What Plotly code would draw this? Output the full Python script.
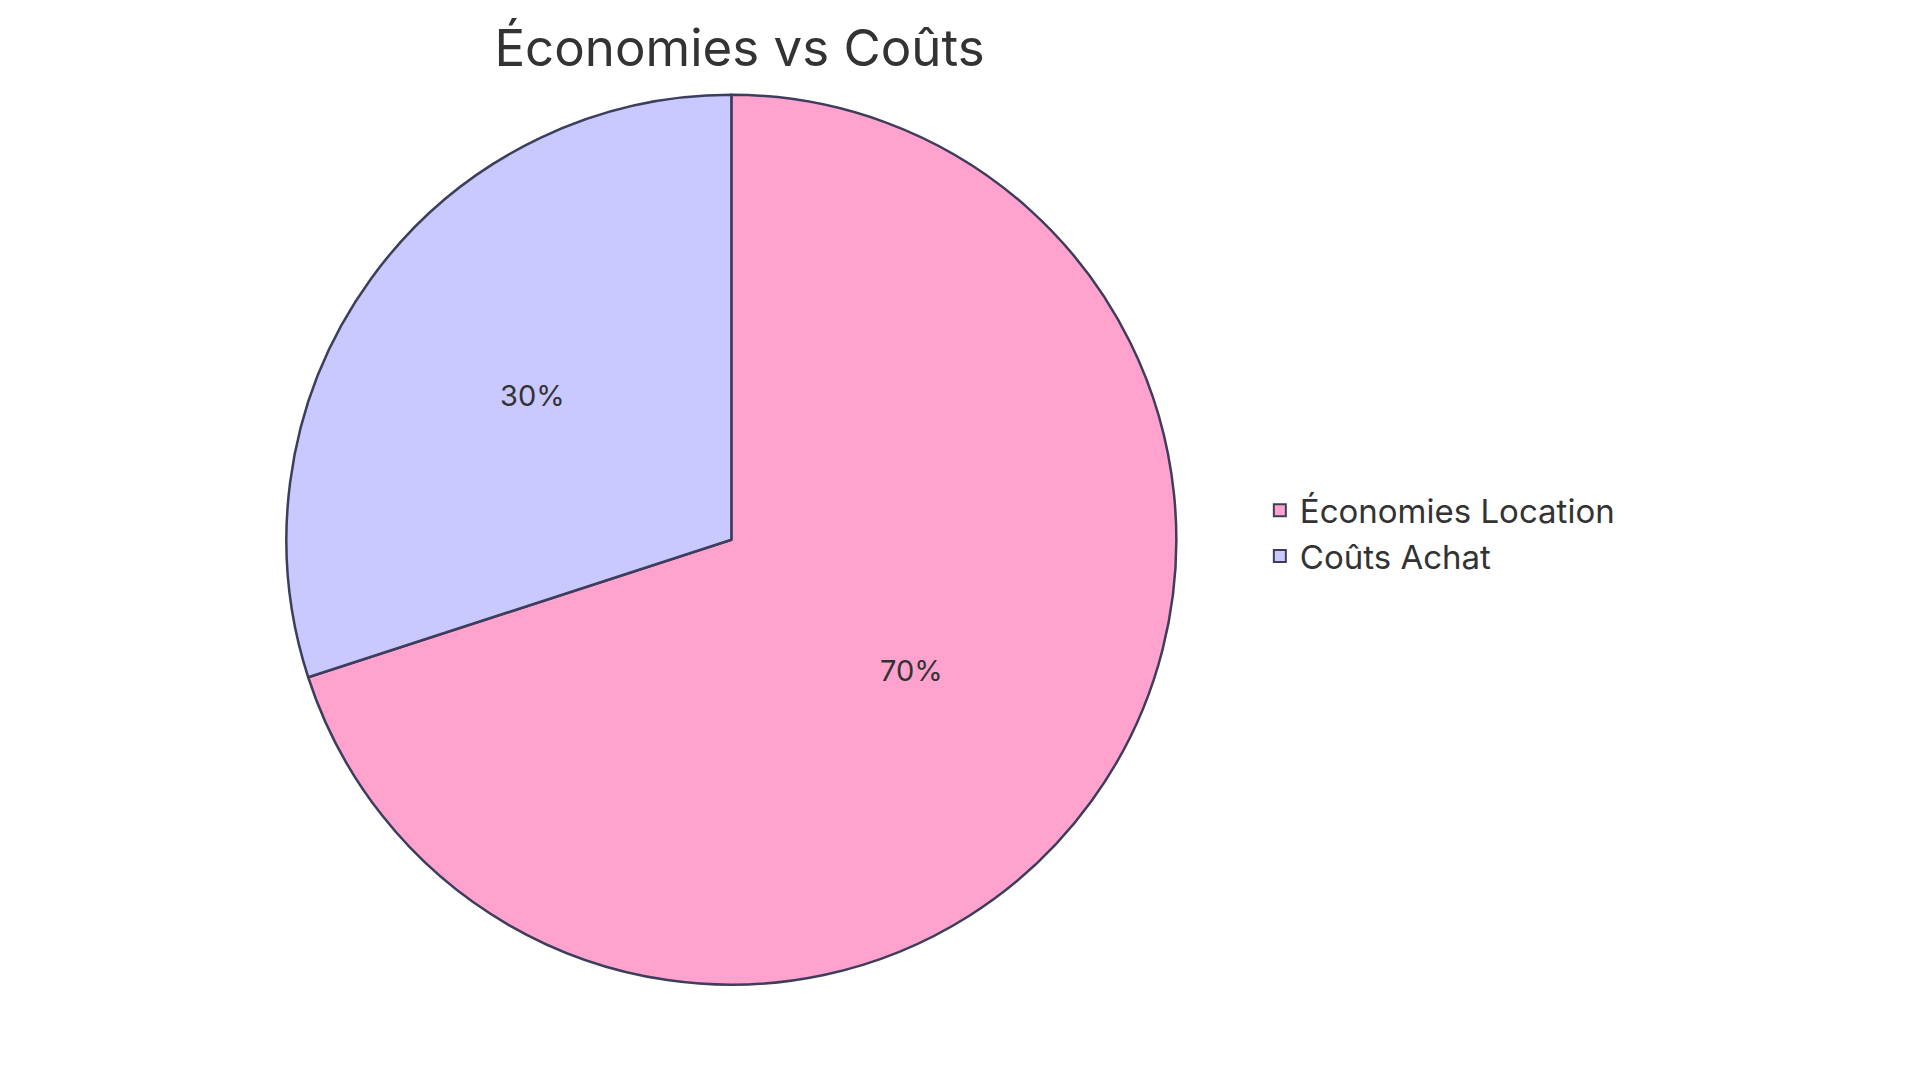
import plotly.graph_objects as go

labels = ["Économies Location", "Coûts Achat"]
values = [70, 30]
colors = ["#FFA3CE", "#C9C9FF"]

fig = go.Figure(go.Pie(
    labels=labels, values=values, sort=False, direction="clockwise", rotation=0,
    marker=dict(colors=colors, line=dict(color="#3d3d5c", width=2.5)),
    textinfo="percent", textposition="inside", insidetextorientation="horizontal",
    textfont=dict(family="Inter", size=29, color="#333333"),
    domain=dict(x=[0.145, 0.6085], y=[0.098, 0.92]),
    hoverinfo="skip",
))
fig.update_layout(
    width=1920, height=1083, paper_bgcolor="white", plot_bgcolor="white",
    margin=dict(l=0, r=0, t=0, b=0),
    title=dict(text="Économies vs Coûts", x=0.381, xanchor="center", y=0.963, yanchor="middle",
               font=dict(family="Inter", size=51, color="#333333")),
    legend=dict(x=0.652, y=0.515, xanchor="left", yanchor="middle",
                font=dict(family="Inter", size=33, color="#333333"), itemsizing="constant",
                tracegroupgap=12),
)
fig.write_html("out.html")
